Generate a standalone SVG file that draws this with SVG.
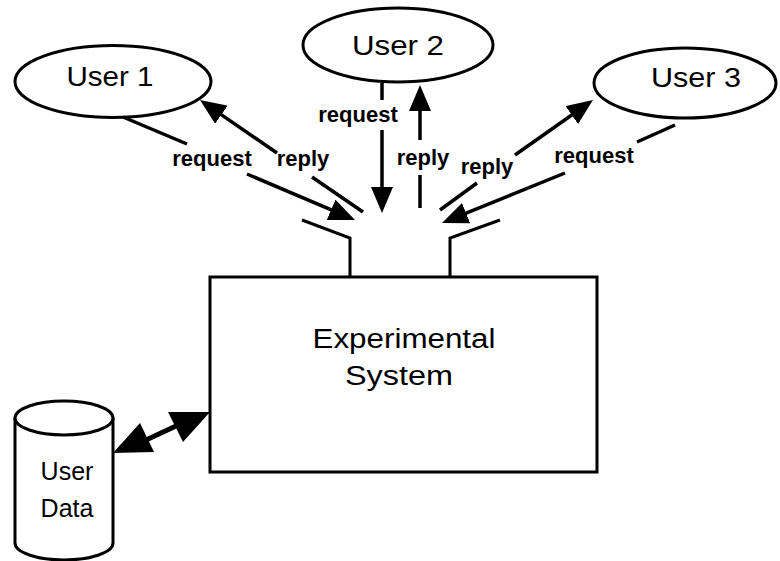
<svg xmlns="http://www.w3.org/2000/svg" width="780" height="561" viewBox="0 0 780 561">
<style>
.shape{fill:#fff;stroke:#000;stroke-width:3}
.line{fill:none;stroke:#000;stroke-width:3.5}
.big{font-family:"Liberation Sans",Arial,sans-serif;font-size:27px;fill:#000;text-anchor:middle}
.lbl{font-family:"Liberation Sans",Arial,sans-serif;font-size:22px;font-weight:bold;fill:#000;text-anchor:middle}
</style>
<defs>
<marker id="ah" markerUnits="userSpaceOnUse" markerWidth="26" markerHeight="22" viewBox="0 0 26 22" refX="20" refY="11" orient="auto">
<path d="M0,0 L26,11 L0,22 z" fill="#000"/>
</marker>
</defs>
<rect width="780" height="561" fill="#fff"/>

<g id="system">
<rect class="shape" x="210" y="277" width="387" height="195"/>
<polyline class="shape" fill="none" points="302,220 350,238 350,277" style="fill:none"/>
<polyline class="shape" points="500,220 450,238 450,277" style="fill:none"/>
<text class="big" x="404" y="348" textLength="183" lengthAdjust="spacingAndGlyphs">Experimental</text>
<text class="big" x="399" y="385" textLength="108" lengthAdjust="spacingAndGlyphs">System</text>
</g>

<g id="user1">
<ellipse class="shape" cx="113" cy="81.5" rx="98" ry="36"/>
<text class="big" x="110" y="86" textLength="87" lengthAdjust="spacingAndGlyphs">User 1</text>
</g>

<g id="user2">
<ellipse class="shape" cx="398" cy="45" rx="95" ry="37"/>
<text class="big" x="398" y="55" textLength="92" lengthAdjust="spacingAndGlyphs">User 2</text>
</g>

<g id="user3">
<ellipse class="shape" cx="685" cy="83" rx="91" ry="35"/>
<text class="big" x="696" y="87" textLength="90" lengthAdjust="spacingAndGlyphs">User 3</text>
</g>

<g id="userdata">
<path class="shape" d="M15,418 L15,543 A49,17 0 0 0 113,543 L113,418"/>
<ellipse class="shape" cx="64" cy="418" rx="49" ry="17"/>
<text class="big" x="67" y="480" style="font-size:25px">User</text>
<text class="big" x="67" y="517" style="font-size:25px">Data</text>
</g>

<g id="connectors">
<!-- User 1 request -->
<line class="line" x1="123" y1="117" x2="187" y2="144"/>
<line class="line" x1="247" y1="174" x2="349.5" y2="217.6" marker-end="url(#ah)"/>
<text class="lbl" x="212" y="166">request</text>
<!-- User 1 reply -->
<line class="line" x1="363" y1="212" x2="312" y2="177"/>
<line class="line" x1="277" y1="153" x2="204.9" y2="103.4" marker-end="url(#ah)"/>
<text class="lbl" x="303" y="166">reply</text>
<!-- User 2 request -->
<line class="line" x1="382" y1="83" x2="382" y2="100"/>
<line class="line" x1="382" y1="130" x2="382" y2="207" marker-end="url(#ah)"/>
<text class="lbl" x="358" y="122">request</text>
<!-- User 2 reply -->
<line class="line" x1="420" y1="208" x2="420" y2="175"/>
<line class="line" x1="420" y1="140" x2="420" y2="91" marker-end="url(#ah)"/>
<text class="lbl" x="423" y="165">reply</text>
<!-- User 3 reply -->
<line class="line" x1="440" y1="210" x2="477" y2="183"/>
<line class="line" x1="515" y1="155" x2="588.1" y2="103.5" marker-end="url(#ah)"/>
<text class="lbl" x="487" y="174">reply</text>
<!-- User 3 request -->
<line class="line" x1="675" y1="125" x2="637" y2="142"/>
<line class="line" x1="565" y1="173" x2="447.6" y2="220.7" marker-end="url(#ah)"/>
<text class="lbl" x="594" y="163">request</text>
<!-- User Data <-> System -->
<line x1="146" y1="440" x2="176" y2="426" stroke="#000" stroke-width="5"/>
<polygon points="113,453 140,423 154,452" fill="#000"/>
<polygon points="210,412 168,412 183,442" fill="#000"/>
</g>
</svg>
